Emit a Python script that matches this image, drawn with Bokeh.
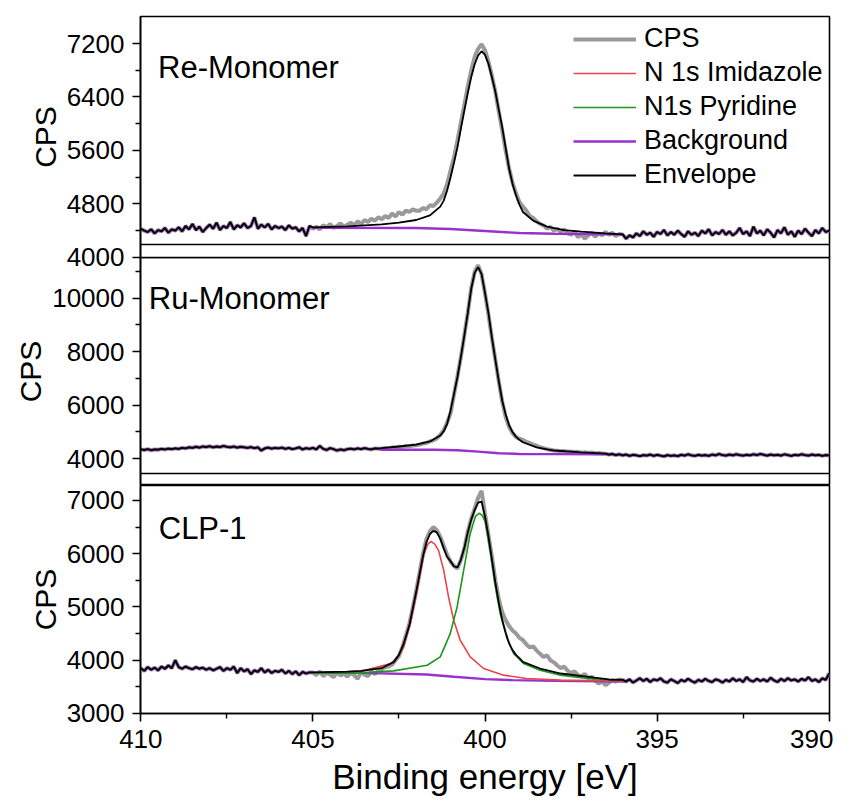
import numpy as np
from bokeh.plotting import figure
from bokeh.layouts import column
from bokeh.models import Range1d, FixedTicker, Span, Label, Legend, LegendItem
from bokeh.embed import file_html
from bokeh.resources import INLINE

# ---------------- data ----------------
# binding energy grid (eV), 0.1 eV steps from 410 down to 390
energy = np.round(np.linspace(410.0, 390.0, 201), 1)

# Re-Monomer raw counts
re_cps = [
    4430, 4400, 4380, 4420, 4360, 4410, 4390, 4440, 4370, 4420,
    4400, 4450, 4390, 4470, 4420, 4500, 4410, 4460, 4380, 4440,
    4490, 4430, 4520, 4410, 4470, 4440, 4530, 4420, 4480, 4450,
    4510, 4440, 4470, 4600, 4430, 4490, 4450, 4500, 4420, 4470,
    4440, 4460, 4410, 4480, 4430, 4450, 4390, 4440, 4320, 4470,
    4430, 4460, 4420, 4480, 4450, 4500, 4440, 4470, 4510, 4460,
    4490, 4520, 4480, 4540, 4500, 4560, 4530, 4580, 4550, 4600,
    4570, 4620, 4590, 4660, 4610, 4680, 4640, 4700, 4680, 4720,
    4700, 4700, 4740, 4720, 4780, 4770, 4820, 4880, 4960, 5100,
    5300, 5500, 5750, 6020, 6280, 6560, 6800, 7000, 7120, 7190,
    7100, 6930, 6720, 6480, 6180, 5900, 5600, 5330, 5120, 4960,
    4830, 4760, 4700, 4620, 4590, 4540, 4500, 4480, 4430, 4460,
    4400, 4430, 4380, 4420, 4360, 4340, 4390, 4300, 4350, 4280,
    4330, 4370, 4310, 4360, 4330, 4380, 4340, 4370, 4320, 4350,
    4345,
    4280, 4330, 4300, 4360, 4320, 4390, 4340, 4370, 4310, 4380,
    4350, 4410, 4330, 4380, 4340, 4400, 4350, 4310, 4390, 4340,
    4370, 4320, 4400, 4360, 4420, 4330, 4380, 4350, 4410, 4340,
    4390, 4330, 4370, 4440, 4350, 4390, 4320, 4460, 4360, 4400,
    4330, 4420, 4370, 4300, 4410, 4360, 4450, 4340, 4390, 4310,
    4400, 4350, 4430, 4370, 4320, 4410, 4360, 4440, 4380, 4400,
]
re_fit = (405.0, 396.0)
re_env_x = [405.0, 404.0, 403.0, 402.5, 402.0, 401.6, 401.3, 401.2, 401.1, 401.0,
            400.9, 400.8, 400.7, 400.6, 400.5, 400.4, 400.3, 400.2, 400.1, 400.0,
            399.9, 399.8, 399.7, 399.6, 399.5, 399.4, 399.3, 399.2, 399.1, 399.0,
            398.9, 398.6, 398.2, 397.7, 397.2, 396.5, 396.0]
re_env_y = [4450, 4465, 4495, 4520, 4560, 4630, 4760, 4850, 5000, 5200,
            5420, 5650, 5930, 6200, 6460, 6700, 6890, 7020, 7085, 7030,
            6900, 6700, 6480, 6210, 5950, 5640, 5330, 5100, 4930, 4790,
            4680, 4550, 4460, 4410, 4385, 4360, 4345]
re_bg_x = [405.0, 402.0, 401.0, 400.0, 399.0, 398.0, 396.0]
re_bg_y = [4445, 4440, 4425, 4395, 4365, 4355, 4345]

# Ru-Monomer raw counts
ru_cps = [
    4340, 4320, 4350, 4310, 4340, 4330, 4360, 4340, 4370, 4350,
    4380, 4360, 4400, 4380, 4420, 4400, 4440, 4410, 4450, 4430,
    4460, 4420, 4450, 4430, 4470, 4440, 4420, 4450, 4410, 4440,
    4420, 4400, 4430, 4390, 4420, 4300, 4380, 4410, 4370, 4400,
    4380, 4410, 4360, 4400, 4350, 4380, 4420, 4340, 4390, 4360,
    4400, 4340, 4470, 4360, 4320, 4390, 4350, 4300, 4340, 4310,
    4350, 4370, 4340, 4380, 4350, 4390, 4360, 4340, 4380, 4370,
    4370, 4400, 4380, 4420, 4410, 4440, 4430, 4470, 4460, 4490,
    4500, 4520, 4560, 4580, 4640, 4680, 4760, 4880, 5060, 5350,
    5700, 6400, 7080, 7800, 8620, 9450, 10380, 10980, 11230, 10900,
    10180, 9380, 8520, 7700, 6880, 6130, 5560, 5180, 4950, 4800,
    4740, 4700, 4620, 4580, 4520, 4480, 4420, 4390, 4350, 4330,
    4300, 4290, 4270, 4280, 4250, 4260, 4240, 4250, 4220, 4240,
    4210, 4230, 4190, 4210, 4190,
    4180, 4150, 4170, 4130, 4160, 4120, 4150, 4100, 4140, 4120,
    4090, 4130, 4110, 4150, 4100, 4140, 4110, 4080, 4130, 4100,
    4120, 4090, 4140, 4110, 4160, 4120, 4100, 4140, 4110, 4130,
    4100, 4150, 4120, 4170, 4130, 4110, 4150, 4120, 4160, 4130,
    4110, 4140, 4120, 4160, 4130, 4170, 4140, 4110, 4150, 4120,
    4140, 4110, 4160, 4130, 4100, 4140, 4120, 4160, 4130, 4110,
    4150, 4120, 4140, 4100, 4130, 4120,
]
ru_fit = (403.0, 396.6)
ru_env_x = [403.0, 402.5, 402.0, 401.6, 401.3, 401.2, 401.1, 401.0, 400.9, 400.8,
            400.7, 400.6, 400.5, 400.4, 400.3, 400.2, 400.1, 400.0, 399.9, 399.8,
            399.7, 399.6, 399.5, 399.4, 399.3, 399.2, 399.1, 399.0, 398.9, 398.5,
            398.0, 397.2, 396.6]
ru_env_y = [4390, 4450, 4520, 4640, 4860, 5020, 5300, 5800, 6420, 7050,
            7800, 8600, 9450, 10350, 10950, 11160, 10900, 10200, 9450, 8530,
            7700, 6900, 6170, 5650, 5250, 4990, 4820, 4700, 4610, 4420,
            4300, 4230, 4195]
ru_bg_x = [403.0, 401.5, 400.8, 400.2, 399.6, 399.0, 398.0, 396.6]
ru_bg_y = [4330, 4330, 4310, 4260, 4200, 4170, 4165, 4160]

# CLP-1 raw counts
clp_cps = [
    3850, 3800, 3870, 3820, 3860, 3810, 3880, 3840, 3900, 3850,
    4000, 3870, 3840, 3880, 3850, 3830, 3870, 3840, 3860, 3820,
    3850, 3810, 3840, 3870, 3800, 3850, 3820, 3880, 3760, 3850,
    3790, 3830, 3740, 3810, 3780, 3850, 3770, 3820, 3760, 3800,
    3780, 3820, 3750, 3800, 3740, 3790, 3720, 3780, 3750, 3770,
    3770, 3720, 3790, 3700, 3760, 3730, 3680, 3770, 3710, 3750,
    3690, 3760, 3720, 3650, 3780, 3730, 3700, 3790, 3740, 3810,
    3830, 3870, 3880, 3920, 4000, 4080, 4250, 4460, 4680, 4980,
    5300, 5650, 6000, 6280, 6420, 6500, 6440, 6320, 6150, 5980,
    5850, 5770, 5720, 5880, 6100, 6420, 6660, 6850, 7050, 7180,
    6750, 6350, 5950, 5500, 5150, 4900, 4750, 4640, 4560, 4500,
    4420, 4380, 4300, 4240, 4260, 4180, 4120, 4060, 4090, 4000,
    3960, 3900, 3850, 3880, 3800, 3760, 3790, 3720, 3700, 3740,
    3660, 3690, 3620, 3560, 3600, 3530, 3580, 3620, 3600, 3640,
    3630,
    3600, 3640, 3580, 3620, 3660, 3610, 3650, 3590, 3640, 3620,
    3660, 3600, 3580, 3640, 3610, 3570, 3630, 3600, 3650, 3610,
    3580, 3630, 3600, 3650, 3610, 3590, 3640, 3620, 3580, 3630,
    3600, 3660, 3610, 3640, 3590, 3680, 3620, 3600, 3650, 3610,
    3640, 3600, 3670, 3620, 3590, 3650, 3610, 3660, 3620, 3640,
    3600, 3650, 3620, 3680, 3610, 3640, 3590, 3660, 3630, 3750,
]
clp_fit = (405.0, 396.0)
clp_env_x = [405.0, 404.0, 403.6, 403.0, 402.65, 402.5, 402.36, 402.2, 402.0, 401.9,
             401.8, 401.7, 401.6, 401.5, 401.4, 401.3, 401.2, 401.1, 401.0, 400.9,
             400.8, 400.7, 400.6, 400.5, 400.4, 400.3, 400.2, 400.1, 400.0, 399.9,
             399.8, 399.7, 399.6, 399.5, 399.4, 399.3, 399.2, 399.1, 399.0, 398.9,
             398.4, 397.8, 397.0, 396.4, 396.0]
clp_env_y = [3770, 3785, 3800, 3850, 3968, 4100, 4313, 4650, 5280, 5620,
             5960, 6220, 6370, 6430, 6400, 6283, 6100, 5938, 5860, 5760,
             5745, 5890, 6110, 6400, 6640, 6820, 6960, 6980, 6700, 6330,
             5900, 5460, 5080, 4760, 4520, 4320, 4190, 4100, 4040, 3968,
             3844, 3750, 3687, 3638, 3630]
clp_imid_x = [405.0, 403.6, 402.65, 402.36, 402.17, 401.97, 401.78, 401.67, 401.57, 401.46,
              401.35, 401.2, 401.06, 400.91, 400.72, 400.43, 400.04, 399.46, 398.8, 397.8, 396.0]
clp_imid_y = [3765, 3790, 3950, 4250, 4688, 5313, 5970, 6170, 6232, 6180,
              6063, 5688, 5188, 4750, 4375, 4062, 3844, 3719, 3656, 3625, 3605]
clp_pyr_x = [405.0, 403.6, 402.65, 401.68, 401.3, 401.01, 400.81, 400.62, 400.43, 400.28,
             400.17, 400.08, 399.99, 399.85, 399.71, 399.56, 399.36, 399.17, 398.88, 398.4,
             397.81, 397.04, 396.0]
clp_pyr_y = [3762, 3762, 3800, 3906, 4062, 4500, 5000, 5688, 6376, 6700,
             6760, 6720, 6595, 6063, 5438, 4876, 4407, 4126, 3938, 3812,
             3719, 3656, 3620]
clp_bg_x = [405.0, 403.6, 401.7, 400.9, 400.0, 399.2, 398.0, 396.0]
clp_bg_y = [3765, 3762, 3731, 3688, 3644, 3625, 3612, 3600]

x_ticks = [410, 405, 400, 395, 390]
x_minor = [407.5, 402.5, 397.5, 392.5]
re_ticks, re_minor = [4000, 4800, 5600, 6400, 7200], [4400, 5200, 6000, 6800]
ru_ticks, ru_minor = [4000, 6000, 8000, 10000], [5000, 7000, 9000, 11000]
clp_ticks, clp_minor = [3000, 4000, 5000, 6000, 7000], [3500, 4500, 5500, 6500]

# ---------------- styling ----------------
FONT = "Liberation Sans"
C_GRAY = "#9a9a9a"
C_RED = "#e5484a"
C_GREEN = "#1c961c"
C_PURPLE = "#9932cc"
C_BLACK = "#000000"

x_range = Range1d(410.01, 389.99)


def joined(cps, fx, fy, fit):
    hi, lo = fit
    c = np.asarray(cps, dtype=float)
    left = energy > hi + 1e-6
    right = energy < lo - 1e-6
    xs = np.concatenate([energy[left], np.asarray(fx, float), energy[right]])
    ys = np.concatenate([c[left], np.asarray(fy, float), c[right]])
    return xs, ys


def make_fig(frame_h, yr, ticks, minor, top_border, bottom_border, with_x, **extra):
    kw = dict(
        frame_width=689, frame_height=frame_h, x_range=x_range, y_range=yr,
        output_backend="svg", toolbar_location=None,
        min_border_left=140, min_border_right=4,
        min_border_top=top_border, min_border_bottom=bottom_border,
    )
    kw.update(extra)
    if not with_x:
        kw["x_axis_type"] = None
    p = figure(**kw)
    p.grid.visible = False
    p.outline_line_color = "black"
    p.outline_line_width = 1.6
    p.outline_line_alpha = 1.0
    axes = [p.yaxis[0]] + ([p.xaxis[0]] if with_x else [])
    for ax in axes:
        ax.axis_line_width = 1.6
        ax.major_tick_line_width = 1.6
        ax.minor_tick_line_width = 1.4
        ax.major_tick_in = 0
        ax.major_tick_out = 8
        ax.minor_tick_in = 0
        ax.minor_tick_out = 5
        ax.major_label_text_font = FONT
        ax.major_label_text_font_size = "26px"
        ax.major_label_text_color = "black"
        ax.axis_label_text_font = FONT
        ax.axis_label_text_font_style = "normal"
        ax.axis_label_text_color = "black"
        ax.major_label_standoff = 8
    p.yaxis.ticker = FixedTicker(ticks=ticks, minor_ticks=minor)
    p.yaxis.axis_label = "CPS"
    p.yaxis.axis_label_text_font_size = "30px"
    p.yaxis.axis_label_standoff = 2
    if with_x:
        p.xaxis.ticker = FixedTicker(ticks=x_ticks, minor_ticks=x_minor)
        p.xaxis.axis_label = "Binding energy [eV]"
        p.xaxis.axis_label_text_font_size = "35px"
        p.xaxis.axis_label_standoff = 6
    return p


def draw(p, cps, env_x, env_y, bg_x, bg_y, fit):
    r_cps = p.line(energy, np.asarray(cps, float), line_color=C_GRAY, line_width=4)
    bx, by = joined(cps, bg_x, bg_y, fit)
    r_bg = p.line(bx, by, line_color=C_PURPLE, line_width=2.4)
    ex, ey = joined(cps, env_x, env_y, fit)
    return r_cps, r_bg, ex, ey


# ---- top: Re-Monomer ----
p1 = make_fig(241, Range1d(3999.0, 7604), re_ticks, re_minor, 16, 16, False)
p1.border_fill_alpha = 0
r_cps1, r_bg1, ex1, ey1 = draw(p1, re_cps, re_env_x, re_env_y, re_bg_x, re_bg_y, re_fit)
# component curves belong to the CLP-1 fit; here they only feed the legend (drawn off-frame)
p1.extra_y_ranges = {"offscreen": Range1d(100000, 200000)}
r_red_leg = p1.line(clp_imid_x, clp_imid_y, line_color=C_RED, line_width=1.6, y_range_name="offscreen")
r_green_leg = p1.line(clp_pyr_x, clp_pyr_y, line_color=C_GREEN, line_width=1.6, y_range_name="offscreen")
r_env1 = p1.line(ex1, ey1, line_color=C_BLACK, line_width=1.8)
p1.add_layout(Span(location=4194, dimension="width", line_color="black", line_width=1.6))
p1.add_layout(Label(x=409.5, y=6840, text="Re-Monomer", text_font=FONT,
                    text_font_size="31px", text_baseline="alphabetic", text_color="black"))
legend = Legend(items=[
    LegendItem(label="CPS", renderers=[r_cps1]),
    LegendItem(label="N 1s Imidazole", renderers=[r_red_leg]),
    LegendItem(label="N1s Pyridine", renderers=[r_green_leg]),
    LegendItem(label="Background", renderers=[r_bg1]),
    LegendItem(label="Envelope", renderers=[r_env1]),
], location=(433, 67))
legend.label_text_font = FONT
legend.label_text_font_size = "27px"
legend.label_text_color = "black"
legend.glyph_width = 63
legend.glyph_height = 24
legend.label_height = 24
legend.spacing = 3
legend.label_standoff = 8
legend.padding = 6
legend.margin = 0
legend.border_line_color = None
legend.background_fill_alpha = 0
p1.add_layout(legend)

# ---- middle: Ru-Monomer ----
p2 = make_fig(228, Range1d(2991, 11521), ru_ticks, ru_minor, 0, 0, False, margin=(-16, 0, 0, 0))
p2.background_fill_alpha = 0
p2.border_fill_alpha = 0
r_cps2, r_bg2, ex2, ey2 = draw(p2, ru_cps, ru_env_x, ru_env_y, ru_bg_x, ru_bg_y, ru_fit)
p2.line(ex2, ey2, line_color=C_BLACK, line_width=1.8)
p2.add_layout(Span(location=3439, dimension="width", line_color="black", line_width=1.6))
p2.add_layout(Label(x=409.77, y=9990, text="Ru-Monomer", text_font=FONT,
                    text_font_size="31px", text_baseline="alphabetic", text_color="black"))

# ---- bottom: CLP-1 ----
p3 = make_fig(228, Range1d(2999.0, 7281), clp_ticks, clp_minor, 0, 6, True)
r_cps3, r_bg3, ex3, ey3 = draw(p3, clp_cps, clp_env_x, clp_env_y, clp_bg_x, clp_bg_y, clp_fit)
p3.line(clp_imid_x, clp_imid_y, line_color=C_RED, line_width=1.6)
p3.line(clp_pyr_x, clp_pyr_y, line_color=C_GREEN, line_width=1.6)
p3.line(ex3, ey3, line_color=C_BLACK, line_width=1.8)
p3.add_layout(Label(x=409.48, y=6476, text="CLP-1", text_font=FONT,
                    text_font_size="31px", text_baseline="alphabetic", text_color="black"))

layout = column(p1, p2, p3, spacing=0)
open("out.html", "w").write(file_html(layout, INLINE))
